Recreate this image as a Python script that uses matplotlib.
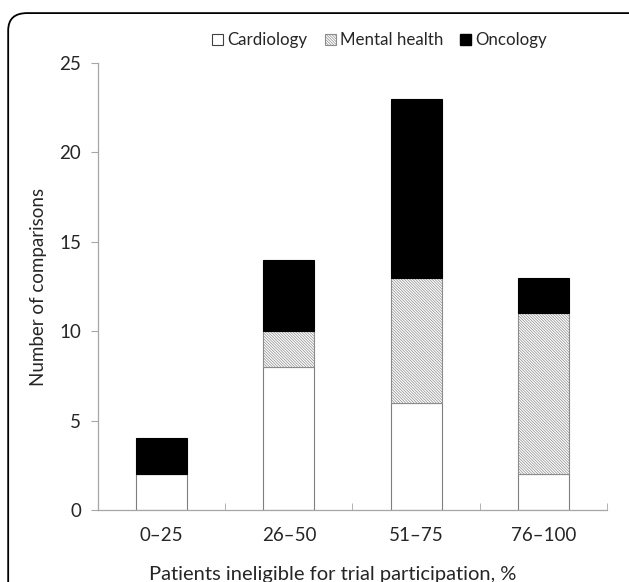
import matplotlib.pyplot as plt
from matplotlib.patches import FancyBboxPatch, Patch
import numpy as np

plt.rcParams['font.family'] = ['Lato', 'DejaVu Sans']
plt.rcParams['hatch.color'] = '#b5b5b5'
plt.rcParams['hatch.linewidth'] = 0.5

categories = ['0\u201325', '26\u201350', '51\u201375', '76\u2013100']
cardiology = [2, 8, 6, 2]
mental_health = [0, 2, 7, 9]
oncology = [2, 4, 10, 2]

fig = plt.figure(figsize=(6.29, 5.82), dpi=100)
ax = fig.add_axes([0.1558, 0.1237, 0.8092, 0.7681])

x = np.arange(len(categories))
w = 0.40
c = np.array(cardiology)
m = np.array(mental_health)
o = np.array(oncology)
hatch = '\\' * 12

ax.bar(x, c, w, color='white', edgecolor='#7f7f7f', linewidth=0.8, label='Cardiology')
ax.bar(x, m, w, bottom=c, color='white', edgecolor='#8c8c8c', linewidth=0.8,
       hatch=hatch, label='Mental health')
ax.bar(x, o, w, bottom=c + m, color='black', edgecolor='black', linewidth=0.8,
       label='Oncology')

ax.set_xlim(-0.5, 3.5)
ax.set_ylim(0, 25)
ax.set_yticks([0, 5, 10, 15, 20, 25])
ax.set_xticks(x)
ax.set_xticklabels(categories)
ax.set_xticks(np.arange(-0.5, 4, 1), minor=True)
ax.tick_params(axis='x', which='major', length=0, pad=12, labelsize=13.5, colors='#262626')
ax.tick_params(axis='x', which='minor', length=5, color='#a6a6a6', direction='in')
ax.tick_params(axis='y', length=5, color='#a6a6a6', labelsize=13.5, pad=7, colors='#262626')
for s in ['top', 'right']:
    ax.spines[s].set_visible(False)
for s in ['left', 'bottom']:
    ax.spines[s].set_color('#a6a6a6')
    ax.spines[s].set_linewidth(0.9)

ax.set_ylabel('Number of comparisons', fontsize=13.5, color='#262626', labelpad=9)
ax.set_xlabel('Patients ineligible for trial participation, %', fontsize=14.5,
              color='#262626', labelpad=15)
ax.xaxis.set_label_coords(0.462, -0.125)

handles = [Patch(facecolor='white', edgecolor='#404040', linewidth=0.8),
           Patch(facecolor='white', edgecolor='#8c8c8c', linewidth=0.8, hatch=hatch),
           Patch(facecolor='black', edgecolor='black')]
fig.legend(handles, ['Cardiology', 'Mental health', 'Oncology'], loc='center',
           bbox_to_anchor=(0.604, 0.931), ncol=3, frameon=False, fontsize=12.2,
           handlelength=0.65, handleheight=0.65, handletextpad=0.25, columnspacing=1.0,
           labelcolor='#262626')

border = FancyBboxPatch((0.013, -0.1), 1.1, 1.0775, transform=fig.transFigure,
                        boxstyle='round,pad=0,rounding_size=0.03', facecolor='none',
                        edgecolor='black', linewidth=1.3, clip_on=False)
fig.patches.append(border)

fig.savefig('out.png', dpi=100)
